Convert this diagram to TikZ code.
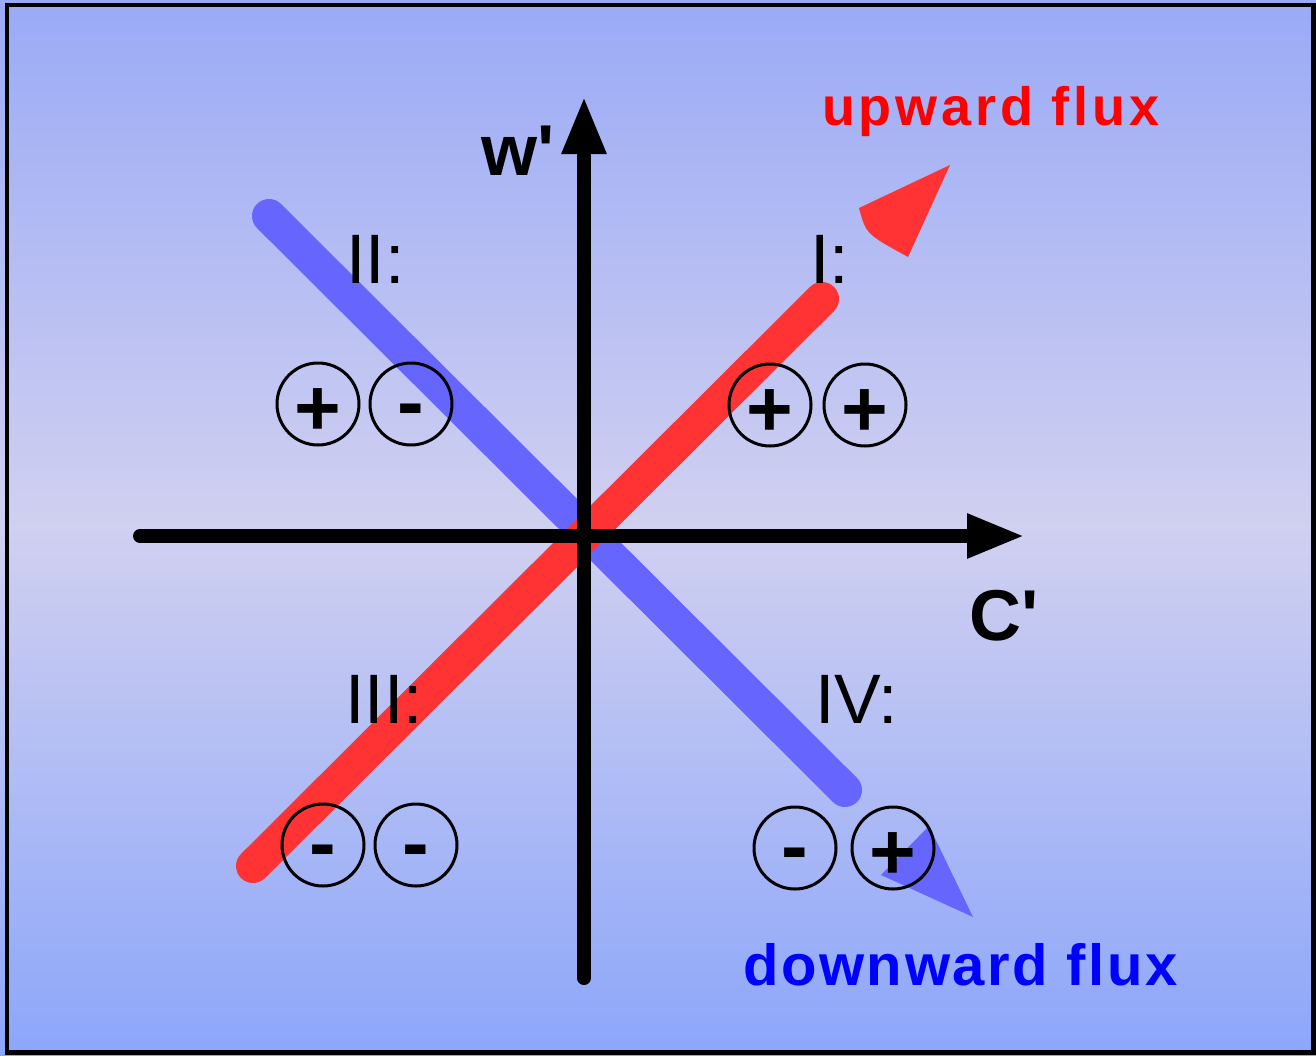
\documentclass[tikz,border=0pt]{standalone}
\usepackage{fontspec}
\setmainfont{Liberation Sans}
\usetikzlibrary{arrows.meta}
\definecolor{bgtop}{HTML}{9AAAF6}
\definecolor{bgmid}{HTML}{D0D0F0}
\definecolor{bgbot}{HTML}{8CA6FA}
\definecolor{upred}{HTML}{FF3333}
\definecolor{downblue}{HTML}{6666FF}

\begin{document}
\begin{tikzpicture}[x=1pt, y=-1pt,
    axis/.style={line width=14pt, line cap=round, -{Triangle[length=58pt, width=41pt]}},
    fluxline/.style={line width=34pt, line cap=round},
    sgn/.style={circle, draw, line width=3pt, minimum size=82pt, inner sep=0pt,
                font=\fontsize{80}{80}\selectfont\bfseries},
    plussign/.style={sgn, text height=63pt, text depth=0pt},
    minussign/.style={sgn, text height=50pt, text depth=0pt},
    quadlabel/.style={anchor=base west, inner sep=0pt, font=\fontsize{70}{70}\selectfont},
    axlabel/.style={anchor=base west, inner sep=0pt, font=\fontsize{72}{72}\selectfont\bfseries},
    fluxlabel/.style={anchor=base west, inner sep=0pt}]
  \shade[top color=bgtop, bottom color=bgbot, middle color=bgmid] (0,0) rectangle (1316,1055);
  \draw[line width=4.5pt] (7,5) rectangle (1313.5,1052.5);

  \coordinate (origin) at (584,536);
  \coordinate (xstart) at (140,536);
  \coordinate (xend) at (1025,536);
  \coordinate (ystart) at (584,978);
  \coordinate (yend) at (584,96);
  \coordinate (blueA) at (269,216);
  \coordinate (blueB) at (845,790);
  \coordinate (redA) at (253,866);
  \coordinate (redB) at (822,299);

  \draw[fluxline, downblue] (blueA) -- (blueB);
  \draw[fluxline, upred] (redA) -- (redB);
  \draw[axis] (ystart) -- (yend);
  \draw[axis] (xstart) -- (xend);

  \fill[upred] (859,208) .. controls (866,234) .. (908,257) -- (950,165) -- cycle;
  \fill[downblue] (881,875) -- (929,826) -- (973,917) -- cycle;

  \node[plussign] (q2a) at (318,404) {+};
  \node[minussign] (q2b) at (411,404) {-};
  \node[plussign] (q1a) at (770,405) {+};
  \node[plussign] (q1b) at (865,405) {+};
  \node[minussign] (q3a) at (323,845) {-};
  \node[minussign] (q3b) at (416,845) {-};
  \node[minussign] (q4a) at (795,848) {-};
  \node[plussign] (q4b) at (893,848) {+};

  \node[quadlabel] (lab2) at (346,283) {II:};
  \node[quadlabel] (lab1) at (810,283) {I:};
  \node[quadlabel] (lab3) at (345,723) {III:};
  \node[quadlabel] (lab4) at (815,723) {IV:};
  \node[axlabel] (wlab) at (481,175) {w\textquotesingle};
  \node[axlabel] (clab) at (969,640) {C\textquotesingle};
  \node[fluxlabel, text=red, font=\fontsize{54}{54}\selectfont\bfseries\addfontfeature{LetterSpace=7}] (uplab) at (822,125) {upward flux};
  \node[fluxlabel, text=blue, font=\fontsize{58}{58}\selectfont\bfseries\addfontfeature{LetterSpace=4.5}] (downlab) at (743,985) {downward flux};
\end{tikzpicture}
\end{document}
